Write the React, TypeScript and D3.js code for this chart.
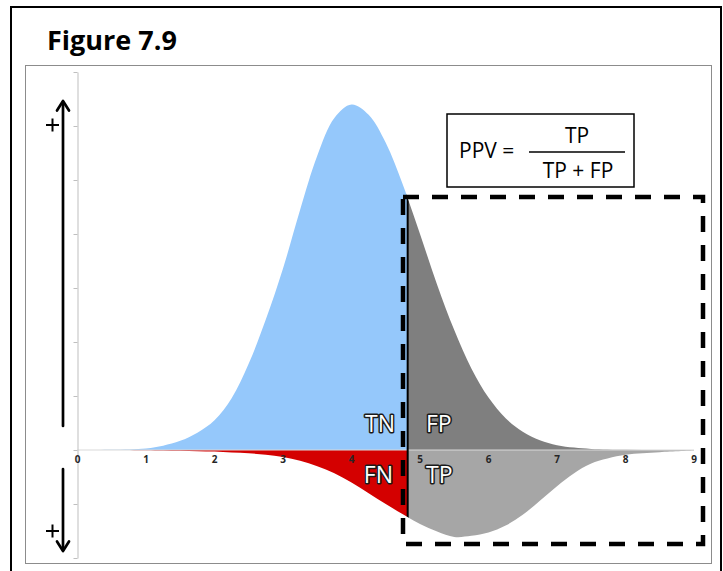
import { useRef, useEffect } from "react";
import * as d3 from "d3";

// test score grid (x) with the two distributions
const scores = [0, 0.5, 1, 1.25, 1.5, 1.75, 2, 2.25, 2.5, 2.75, 3, 3.25, 3.5, 3.75, 4, 4.25, 4.5, 4.75, 5, 5.25, 5.5, 5.75, 6, 6.25, 6.5, 6.75, 7, 7.25, 7.5, 8, 8.5, 9];
// disease-free population, drawn above the axis
const negatives = [0, 0.004, 0.03, 0.08, 0.17, 0.32, 0.55, 0.96, 1.6, 2.42, 3.36, 4.45, 5.45, 6.15, 6.4, 6.21, 5.69, 4.91, 4.0, 3.06, 2.22, 1.51, 0.97, 0.59, 0.34, 0.18, 0.09, 0.045, 0.02, 0.004, 0, 0];
// diseased population, drawn below the axis
const positives = [0, 0, 0.005, 0.01, 0.015, 0.022, 0.03, 0.045, 0.06, 0.09, 0.13, 0.2, 0.3, 0.43, 0.6, 0.8, 1.0, 1.19, 1.37, 1.51, 1.61, 1.59, 1.53, 1.4, 1.2, 0.94, 0.67, 0.43, 0.25, 0.09, 0.04, 0.01];
const cutoff = 4.82;

const xTicks = [0, 1, 2, 3, 4, 5, 6, 7, 8, 9];
const yTicks = [-2, -1, 0, 1, 2, 3, 4, 5, 6, 7];

const W = 723;
const H = 571;
const font = "'Open Sans', 'Noto Sans', sans-serif";

export default function App() {
  const axisRef = useRef<SVGGElement | null>(null);

  const x = d3.scaleLinear().domain([0, 9]).range([77.5, 694]);
  const y = d3.scaleLinear().domain([-2, 7]).range([558, 72]);

  useEffect(() => {
    if (!axisRef.current) return;
    const g = d3.select(axisRef.current);
    g.selectAll("*").remove();
    g.call(
      d3
        .axisLeft(y)
        .tickValues(yTicks)
        .tickSize(4)
        .tickSizeOuter(0)
        .tickFormat(() => "")
    );
    g.select(".domain").attr("stroke", "#bfbfbf");
    g.selectAll(".tick line").attr("stroke", "#bfbfbf");
  }, []);

  const upper = d3
    .area<number>()
    .x((_, i) => x(scores[i]))
    .y0(y(0))
    .y1((d) => y(d))
    .curve(d3.curveCatmullRom.alpha(0.5));
  const lower = d3
    .area<number>()
    .x((_, i) => x(scores[i]))
    .y0(y(0))
    .y1((d) => y(-d))
    .curve(d3.curveCatmullRom.alpha(0.5));

  const upperPath = upper(negatives) || "";
  const lowerPath = lower(positives) || "";
  const xc = x(cutoff);

  const label = (t: string, tx: number, ty: number, anchor: string) => (
    <text
      x={tx}
      y={ty}
      textAnchor={anchor}
      fontFamily={font}
      fontSize={23}
      fill="#fff"
      stroke="#1a1a1a"
      strokeWidth={3}
      strokeLinejoin="round"
      style={{ paintOrder: "stroke" }}
    >
      {t}
    </text>
  );

  return (
    <div style={{ position: "absolute", left: 0, top: 0, width: W, height: H }}>
      <svg width={W} height={H} style={{ display: "block", background: "#fff" }}>
        <defs>
          <clipPath id="left">
            <rect x={0} y={0} width={xc} height={H} />
          </clipPath>
          <clipPath id="right">
            <rect x={xc} y={0} width={W - xc} height={H} />
          </clipPath>
          <clipPath id="curves">
            <path d={upperPath} />
            <path d={lowerPath} />
          </clipPath>
        </defs>

        {/* outer page frame */}
        <rect x={11} y={7} width={710} height={580} fill="none" stroke="#000" strokeWidth={2} />
        <text x={47} y={50} fontFamily={font} fontWeight={700} fontSize={27} fill="#000">
          Figure 7.9
        </text>
        <rect x={25.5} y={65.5} width={686} height={498} fill="none" stroke="#8c8c8c" strokeWidth={1} />

        {/* areas */}
        <path d={upperPath} fill="#95c8fb" clipPath="url(#left)" />
        <path d={upperPath} fill="#7f7f7f" clipPath="url(#right)" />
        <path d={lowerPath} fill="#d40000" clipPath="url(#left)" />
        <path d={lowerPath} fill="#a6a6a6" clipPath="url(#right)" />

        {/* axes */}
        <line x1={x(0)} x2={x(9)} y1={y(0)} y2={y(0)} stroke="#d9d9d9" strokeWidth={1} />
        <g ref={axisRef} transform={`translate(${x(0)},0)`} />
        {xTicks.map((t) => (
          <text
            key={t}
            x={x(t)}
            y={y(0) + 13}
            textAnchor="middle"
            fontFamily={font}
            fontWeight={700}
            fontSize={10}
            fill="#262626"
          >
            {t}
          </text>
        ))}

        {/* cutoff line */}
        <line
          x1={xc}
          x2={xc}
          y1={y(7)}
          y2={y(-2)}
          stroke="#000"
          strokeWidth={2}
          clipPath="url(#curves)"
        />

        {/* dashed box */}
        <rect
          x={403}
          y={197}
          width={300}
          height={347}
          fill="none"
          stroke="#000"
          strokeWidth={4.5}
          strokeDasharray="16 13"
        />

        {label("TN", 395, 432, "end")}
        {label("FP", 426, 432, "start")}
        {label("FN", 393, 483, "end")}
        {label("TP", 426, 483, "start")}

        {/* PPV formula */}
        <rect x={447} y={114} width={187} height={73} fill="#fff" stroke="#000" strokeWidth={1.5} />
        <text x={459} y={158} fontFamily={font} fontSize={21} fill="#000">
          PPV =
        </text>
        <text x={577} y={143} textAnchor="middle" fontFamily={font} fontSize={21} fill="#000">
          TP
        </text>
        <line x1={529} x2={625} y1={152} y2={152} stroke="#000" strokeWidth={1.3} />
        <text x={578} y={178} textAnchor="middle" fontFamily={font} fontSize={21} fill="#000">
          TP + FP
        </text>

        {/* direction arrows */}
        <g stroke="#000" strokeWidth={2.7} fill="none" strokeLinecap="round" strokeLinejoin="round">
          <line x1={63} x2={63} y1={426} y2={102} />
          <polyline points="57,110.5 63,101 69,110.5" />
          <line x1={63} x2={63} y1={469} y2={550} />
          <polyline points="57,541.5 63,551 69,541.5" />
        </g>
        <g stroke="#000" strokeWidth={2}>
          <line x1={46} x2={59} y1={125} y2={125} />
          <line x1={52.5} x2={52.5} y1={118.5} y2={131.5} />
          <line x1={46} x2={59} y1={531} y2={531} />
          <line x1={52.5} x2={52.5} y1={524.5} y2={537.5} />
        </g>
      </svg>
    </div>
  );
}
